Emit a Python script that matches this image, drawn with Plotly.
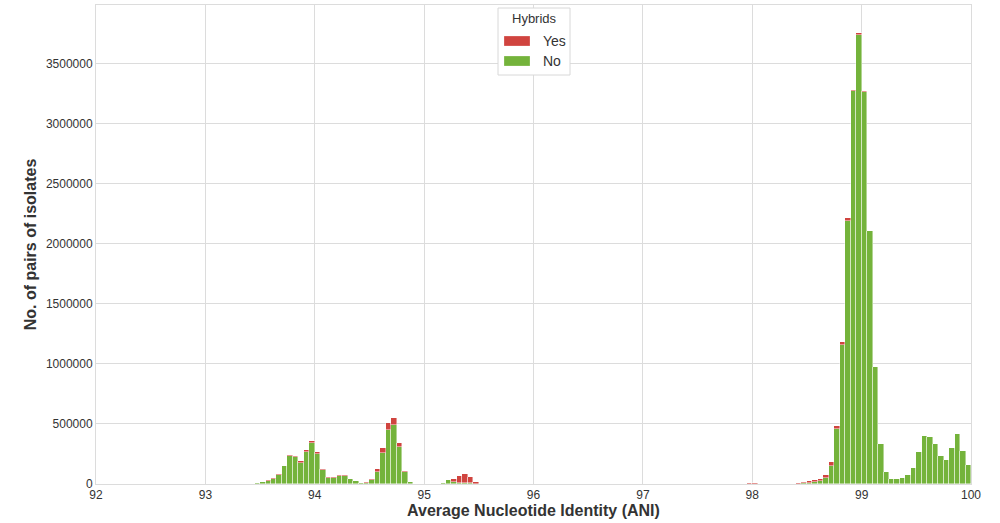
import plotly.graph_objects as go

# Histogram bins (left edge of each 0.05-wide ANI bin) with non-zero counts
bin_left = [93.45, 93.50, 93.55, 93.60, 93.65, 93.70, 93.75, 93.80, 93.85, 93.90,
            93.95, 94.00, 94.05, 94.10, 94.15, 94.20, 94.25, 94.30, 94.35, 94.40,
            94.45, 94.50, 94.55, 94.60, 94.65, 94.70, 94.75, 94.80, 94.85,
            95.15, 95.20, 95.25, 95.30, 95.35, 95.40, 95.45,
            97.95, 98.00,
            98.40, 98.45, 98.50, 98.55, 98.60, 98.65, 98.70, 98.75, 98.80, 98.85,
            98.90, 98.95, 99.00, 99.05, 99.10, 99.15, 99.20, 99.25, 99.30, 99.35,
            99.40, 99.45, 99.50, 99.55, 99.60, 99.65, 99.70, 99.75, 99.80, 99.85,
            99.90, 99.95]

total_pairs = [5000, 15000, 31000, 47000, 80000, 153000, 242000, 230000, 189000, 280000,
               361000, 267000, 128000, 56000, 56000, 78000, 78000, 44000, 25000, 11000,
               15000, 42000, 122000, 297000, 508000, 553000, 342000, 111000, 15000,
               12000, 33000, 44000, 67000, 83000, 56000, 17000,
               6000, 6000,
               5000, 15000, 22000, 33000, 42000, 75000, 180000, 486000, 1183000, 2214000,
               3283000, 3756000, 3272000, 2108000, 972000, 336000, 100000, 42000, 42000, 50000,
               72000, 133000, 264000, 400000, 392000, 331000, 231000, 203000, 303000, 417000,
               272000, 156000]

yes_pairs = [0, 0, 2000, 3000, 6000, 6000, 6000, 8000, 10000, 16000,
             22000, 17000, 10000, 4000, 4000, 9000, 9000, 6000, 4000, 2000,
             5000, 7000, 20000, 39000, 61000, 61000, 36000, 13000, 2000,
             0, 3000, 25000, 55000, 75000, 50000, 15000,
             6000, 6000,
             4000, 10000, 12000, 17000, 20000, 24000, 27000, 28000, 27000, 20000,
             11000, 12000, 3000, 2000, 1000, 1000, 0, 0, 0, 0,
             0, 0, 0, 0, 0, 0, 0, 0, 0, 0,
             0, 0]

bin_width = 0.05
x_ticks = [92, 93, 94, 95, 96, 97, 98, 99, 100]
y_ticks = [0, 500000, 1000000, 1500000, 2000000, 2500000, 3000000, 3500000]
legend_labels = ["Yes", "No"]

no_pairs = [t - y for t, y in zip(total_pairs, yes_pairs)]
centers = [b + bin_width / 2 for b in bin_left]

RED = "#d0443f"
GREEN = "#74b33b"
edge = dict(color="rgba(255,255,255,0.55)", width=0.8)

fig = go.Figure()
fig.add_trace(go.Bar(x=centers, y=no_pairs, width=bin_width, name="No",
                     marker=dict(color=GREEN, line=edge), showlegend=False))
fig.add_trace(go.Bar(x=centers, y=yes_pairs, width=bin_width, name="Yes",
                     marker=dict(color=RED, line=edge), showlegend=False))

font_family = "Liberation Sans, Arial, sans-serif"

# Custom legend (box, title, wide patches) in paper coordinates
W, H = 1000, 523
L, R, T, B = 96, 29, 5, 39
pw, ph = W - L - R, H - T - B
def px_x(x):
    return (x - L) / pw
def px_y(y):
    return (H - B - y) / ph

shapes = [dict(type="rect", xref="paper", yref="paper",
               x0=px_x(498), x1=px_x(570), y0=px_y(75), y1=px_y(8),
               fillcolor="white", line=dict(color="#d8d8d8", width=1), layer="above")]
annotations = [dict(xref="paper", yref="paper", x=px_x(534), y=px_y(19),
                    text="Hybrids", showarrow=False, xanchor="center", yanchor="middle",
                    font=dict(size=13, color="#333333"))]
for i, (lab, col) in enumerate(zip(legend_labels, [RED, GREEN])):
    yc = 41 + i * 20
    shapes.append(dict(type="rect", xref="paper", yref="paper",
                       x0=px_x(504), x1=px_x(530), y0=px_y(yc + 5), y1=px_y(yc - 5),
                       fillcolor=col, line=dict(color="rgba(255,255,255,0.5)", width=0.5),
                       layer="above"))
    annotations.append(dict(xref="paper", yref="paper", x=px_x(541), y=px_y(yc),
                            text=lab, showarrow=False, xanchor="left", yanchor="middle",
                            font=dict(size=14, color="#333333")))

fig.update_layout(
    width=W, height=H,
    barmode="stack", bargap=0,
    plot_bgcolor="white", paper_bgcolor="white",
    margin=dict(l=L, r=R, t=T, b=B),
    font=dict(family=font_family, size=12, color="#333333"),
    showlegend=False,
    shapes=shapes, annotations=annotations,
    xaxis=dict(
        range=[92, 100], tickvals=x_ticks, ticktext=[str(t) for t in x_ticks],
        showgrid=True, gridcolor="#dcdcdc", gridwidth=1,
        showline=True, linecolor="#dcdcdc", mirror=True, zeroline=False,
        ticks="", tickfont=dict(size=12, color="#333333"), automargin=False,
        title=dict(text="<b>Average Nucleotide Identity (ANI)</b>",
                   font=dict(size=16, color="#333333"), standoff=2),
    ),
    yaxis=dict(
        range=[0, 3990000], tickvals=y_ticks, ticktext=[str(t) for t in y_ticks],
        showgrid=True, gridcolor="#dcdcdc", gridwidth=1,
        showline=True, linecolor="#dcdcdc", mirror=True, zeroline=False,
        ticks="", tickfont=dict(size=12, color="#333333"), automargin=False,
        title=dict(text="<b>No. of pairs of isolates</b>",
                   font=dict(size=16, color="#333333"), standoff=5),
    ),
)

fig.write_html("out.html", config={"displayModeBar": False},
               post_script="document.body.style.margin='0';")
